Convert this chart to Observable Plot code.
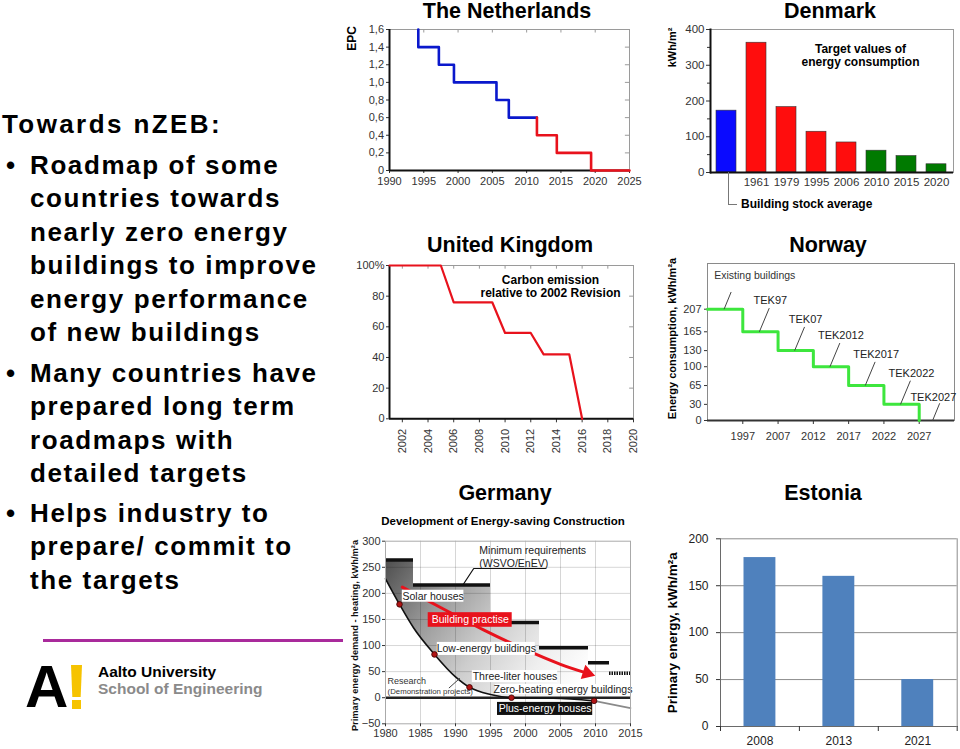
<!DOCTYPE html>
<html>
<head>
<meta charset="utf-8">
<script src="https://cdn.jsdelivr.net/npm/d3@7"></script>
<script src="https://cdn.jsdelivr.net/npm/@observablehq/plot@0.6"></script>
<style>
html,body{margin:0;padding:0;background:#fff;}
#page{position:relative;width:960px;height:749px;overflow:hidden;background:#fff;font-family:'Liberation Sans',Arial,Helvetica,sans-serif;}
.ttl{position:absolute;font-weight:bold;font-size:21.5px;line-height:16px;white-space:nowrap;transform:translate(-50%,-50%);color:#000;}
.txt{position:absolute;left:0;font-weight:bold;font-size:26px;line-height:33.5px;letter-spacing:1.6px;white-space:nowrap;color:#000;}
.txt .b{position:absolute;left:6px;top:0;letter-spacing:0;}
.txt .l{margin-left:30px;}
</style>
</head>
<body>
<div id="page">
  <div class="txt" style="top:107.6px;left:2px;letter-spacing:2.4px;">Towards nZEB:</div>
  <div class="txt" style="top:148.6px;"><span class="b">•</span><div class="l">Roadmap of some<br>countries towards<br>nearly zero energy<br>buildings to improve<br>energy performance<br>of new buildings</div></div>
  <div class="txt" style="top:356.6px;"><span class="b">•</span><div class="l">Many countries have<br>prepared long term<br>roadmaps with<br>detailed targets</div></div>
  <div class="txt" style="top:496.6px;"><span class="b">•</span><div class="l">Helps industry to<br>prepare/ commit to<br>the targets</div></div>
  <div style="position:absolute;left:43px;top:639px;width:300px;height:3px;background:#a92a9b;"></div>
  <div style="position:absolute;left:25px;top:657px;font-weight:bold;font-size:60px;line-height:60px;color:#000;">A</div>
  <div style="position:absolute;left:71px;top:665px;width:11px;height:32px;background:#f6c300;clip-path:polygon(0 0,100% 0,88% 100%,12% 100%);"></div>
  <div style="position:absolute;left:71.5px;top:700px;width:9.5px;height:8.5px;background:#f6c300;"></div>
  <div style="position:absolute;left:98px;top:663px;font-weight:bold;font-size:15.5px;line-height:17px;color:#000;white-space:nowrap;">Aalto University</div>
  <div style="position:absolute;left:98px;top:679.5px;font-weight:bold;font-size:15.5px;line-height:17px;color:#8a8a8a;white-space:nowrap;">School of Engineering</div>
</div>
<script>
// ================= DATA =================
// The Netherlands – EPC requirement steps
const nlYear  = [1994.2, 1994.2, 1997.2, 1999.4, 2005.6, 2007.4, 2011.5, 2011.5, 2014.4, 2019.4, 2025];
const nlEPC   = [1.6, 1.4, 1.2, 1.0, 0.8, 0.6, 0.6, 0.4, 0.2, 0, 0];
const nlPhase = ["realised","realised","realised","realised","realised","realised","realised","target","target","target","target"];
const nlXTicks = [1990, 1995, 2000, 2005, 2010, 2015, 2020, 2025];
const nlYTicks = [0, 0.2, 0.4, 0.6, 0.8, 1.0, 1.2, 1.4, 1.6];

// Denmark – target values of energy consumption (kWh/m²)
const dkCategory = ["Building stock average", "1961", "1979", "1995", "2006", "2010", "2015", "2020"];
const dkValue    = [173, 363, 183, 114, 84, 61, 46, 23];
const dkGroup    = ["stock", "past", "past", "past", "past", "target", "target", "target"];
const dkYTicks   = [0, 100, 200, 300, 400];
const dkMinorTicks = [50, 150, 250, 350];

// United Kingdom – carbon emission relative to 2002 revision (%)
const ukYear   = [2001, 2005, 2006, 2009, 2010, 2012, 2013, 2015, 2016];
const ukCarbon = [100, 100, 76, 76, 56, 56, 42, 42, 0];
const ukXTicks = [2002, 2004, 2006, 2008, 2010, 2012, 2014, 2016, 2018, 2020];
const ukYTicks = [0, 20, 40, 60, 80, 100];

// Norway – energy consumption, kWh/m²a
const noPeriod    = ["Existing buildings", "TEK97", "TEK07", "TEK2012", "TEK2017", "TEK2022", "TEK2027"];
const noValue     = [207, 165, 130, 100, 65, 30, 0];
const noYearTicks = ["1997", "2007", "2012", "2017", "2022", "2027"];

// Germany – primary energy demand for heating, kWh/m²a
const deReqYear   = [1980, 1984, 1995, 2002, 2009, 2012];
const deReqValue  = [264, 216, 144, 96, 67, 47];
const deCurveYear  = [1980, 1982, 1984, 1987, 1990, 1992, 1995, 1998, 2004, 2009.8, 2015];
const deCurveValue = [228, 179, 134, 83, 40, 20, 6, 0, -1, -6, -20];
const deCurveMarked = [false, true, false, true, false, true, false, true, false, true, false];
const dePracticeYear  = [1982.4, 1988, 1994, 2000, 2005, 2008.8];
const dePracticeValue = [212, 172, 130, 92, 64, 47];
const deXTicks = [1980, 1985, 1990, 1995, 2000, 2005, 2010, 2015];
const deYTicks = [-50, 0, 50, 100, 150, 200, 250, 300];

// Estonia – primary energy, kWh/m²a
const eeYear  = ["2008", "2013", "2021"];
const eeValue = [180, 160, 50];
const eeYTicks = [0, 50, 100, 150, 200];

// ================= HELPERS =================
const F = "'Liberation Sans', Arial, Helvetica, sans-serif";
const page = document.getElementById("page");
function put(node, left, top) {
  node.style.position = "absolute";
  node.style.left = left + "px";
  node.style.top = top + "px";
  node.style.overflow = "visible";
  page.appendChild(node);
}
function title(text, cx, cy) {
  const d = document.createElement("div");
  d.className = "ttl"; d.textContent = text;
  d.style.left = cx + "px"; d.style.top = cy + "px";
  page.appendChild(d);
}
function note(text, x, y, size, {anchor = "middle", weight = "bold", color = "#000"} = {}) {
  const d = document.createElement("div");
  d.textContent = text;
  Object.assign(d.style, {position: "absolute", left: x + "px", top: y + "px", fontFamily: F,
    fontSize: size + "px", lineHeight: size + "px", fontWeight: weight, color, whiteSpace: "nowrap",
    transform: anchor === "start" ? "translate(0,-50%)" : "translate(-50%,-50%)"});
  page.appendChild(d);
}
const baseStyle = (fs) => ({fontFamily: F, fontSize: fs + "px", color: "#333", background: "transparent", overflow: "visible"});
const centred = {textAnchor: "middle", lineAnchor: "middle"};

// ================= THE NETHERLANDS =================
{
  const rows = nlYear.map((x, i) => ({year: x, epc: nlEPC[i], phase: nlPhase[i]}));
  const realised = rows.filter(d => d.phase === "realised");
  const target = [realised[realised.length - 1], ...rows.filter(d => d.phase === "target")];
  const svg = Plot.plot({
    width: 310, height: 200, marginLeft: 49, marginRight: 21, marginTop: 29, marginBottom: 30,
    style: baseStyle(11),
    x: {domain: [1990, 2025], label: null},
    y: {domain: [0, 1.6], label: null},
    marks: [
      Plot.frame({stroke: "#9a9a9a"}),
      Plot.ruleX(nlXTicks, {y1: 1.6, y2: 1.56, stroke: "#9a9a9a"}),
      Plot.ruleY(nlYTicks, {x1: 2025, x2: 2024.4, stroke: "#9a9a9a"}),
      Plot.axisX({ticks: nlXTicks, tickFormat: d => String(d), tickSize: 3, tickPadding: 3.5, label: null}),
      Plot.axisY({ticks: nlYTicks, tickFormat: d => d === 0 ? "0" : d.toFixed(1).replace(".", ","), tickSize: 3, tickPadding: 2.5, label: null}),
      Plot.ruleX([1990], {stroke: "#111", strokeWidth: 2}),
      Plot.ruleY([0], {stroke: "#111", strokeWidth: 2}),
      Plot.line(realised, {x: "year", y: "epc", curve: "step-after", stroke: "#0a18cc", strokeWidth: 2.6}),
      Plot.line(target, {x: "year", y: "epc", curve: "step-after", stroke: "#e8121c", strokeWidth: 2.6}),
      Plot.text(["EPC"], {frameAnchor: "top-left", dx: -37, dy: 9, rotate: -90, fontWeight: "bold", fontSize: 12, fill: "#000", ...centred})
    ]
  });
  put(svg, 340, 0);
  title("The Netherlands", 507, 10.5);
}

// ================= DENMARK =================
{
  const rows = dkCategory.map((c, i) => ({cat: c, v: dkValue[i], g: dkGroup[i]}));
  const svg = Plot.plot({
    width: 310, height: 215, marginLeft: 60, marginRight: 7, marginTop: 29, marginBottom: 43,
    style: baseStyle(11.5),
    x: {domain: dkCategory, paddingInner: 0.32, paddingOuter: 0.2, label: null},
    y: {domain: [0, 400], label: null},
    color: {domain: ["stock", "past", "target"], range: ["#0a0aff", "#ff0d0d", "#007a00"]},
    marks: [
      Plot.frame({stroke: "#9a9a9a"}),
      Plot.barY(rows, {x: "cat", y: "v", fill: "g", stroke: "#333", strokeWidth: 0.6}),
      Plot.axisX({tickSize: 0, tickPadding: 5, tickFormat: d => d === dkCategory[0] ? "" : d, label: null}),
      Plot.axisY({ticks: dkYTicks, tickSize: 4, tickPadding: 2, label: null}),
      Plot.axisY({ticks: dkMinorTicks, tickSize: 3, tickFormat: () => "", label: null}),
      Plot.frame({anchor: "left", stroke: "#111", strokeWidth: 2}),
      Plot.ruleY([0], {stroke: "#111", strokeWidth: 2}),
      Plot.text(["kWh/m²"], {frameAnchor: "top-left", dx: -38, dy: 18, rotate: -90, fontWeight: "bold", fontSize: 11, fill: "#000", ...centred}),
      Plot.text(["Target values of\nenergy consumption"], {frameAnchor: "top-left", dx: 150, dy: 25.5, fontWeight: "bold", fontSize: 12, lineHeight: 1.08, fill: "#000", ...centred})
    ]
  });
  put(svg, 650, 0);
  title("Denmark", 830, 10.5);
  const br = document.createElement("div");
  Object.assign(br.style, {position: "absolute", left: "728px", top: "172px", width: "8px", height: "32px",
    borderLeft: "1px solid #777", borderBottom: "1px solid #777"});
  page.appendChild(br);
  note(dkCategory[0], 741, 204, 12, {anchor: "start"});
}

// ================= UNITED KINGDOM =================
{
  const rows = ukYear.map((y, i) => ({year: y, pct: ukCarbon[i]}));
  const svg = Plot.plot({
    width: 310, height: 240, marginLeft: 49, marginRight: 17, marginTop: 40, marginBottom: 46.7,
    style: baseStyle(11),
    x: {domain: [2001, 2020], label: null},
    y: {domain: [0, 100], label: null},
    marks: [
      Plot.frame({stroke: "#9a9a9a"}),
      Plot.ruleX(ukXTicks, {y1: 100, y2: 97.6, stroke: "#9a9a9a"}),
      Plot.ruleY(ukYTicks, {x1: 2020, x2: 2019.7, stroke: "#9a9a9a"}),
      Plot.axisX({ticks: ukXTicks, tickFormat: d => String(d), tickRotate: -90, tickSize: 4, tickPadding: 6, label: null}),
      Plot.axisY({ticks: ukYTicks, tickFormat: d => d === 100 ? "100%" : String(d), tickSize: 3, tickPadding: 2, label: null}),
      Plot.ruleX([2001], {stroke: "#111", strokeWidth: 2}),
      Plot.ruleY([0], {stroke: "#111", strokeWidth: 2}),
      Plot.line(rows, {x: "year", y: "pct", stroke: "#e8121c", strokeWidth: 2.2}),
      Plot.text(["Carbon emission\nrelative to 2002 Revision"], {frameAnchor: "top-left", dx: 161, dy: 20.5, fontWeight: "bold", fontSize: 12, lineHeight: 1.08, fill: "#000", ...centred})
    ]
  });
  put(svg, 340, 225);
  title("United Kingdom", 510, 245);
}

// ================= NORWAY =================
{
  const rows = noValue.map((v, i) => ({i, v}));
  const notes = noPeriod.map((t, i) => {
    if (i === 0) return {t, lx: 0.19, ly: noValue[i] + 63, bx: 0.47, by: noValue[i], tx: 0.67, ty: noValue[i] + 32};
    if (i === noPeriod.length - 1) return {t, lx: 6.4, ly: noValue[i] + 43, bx: 6.38, by: noValue[i], tx: 6.58, ty: noValue[i] + 32};
    return {t, lx: i + 0.78, ly: noValue[i] + 58, bx: i + 0.47, by: noValue[i], tx: i + 0.75, ty: noValue[i] + 44};
  });
  const svg = Plot.plot({
    width: 310, height: 235, marginLeft: 57, marginRight: 6, marginTop: 38, marginBottom: 40,
    style: baseStyle(11),
    x: {domain: [0, 7], label: null},
    y: {domain: [0, 292], label: null},
    marks: [
      Plot.frame({stroke: "#8a8a8a"}),
      Plot.axisX({ticks: [1, 2, 3, 4, 5, 6], tickFormat: i => noYearTicks[i - 1], tickSize: 4, tickPadding: 8, label: null}),
      Plot.axisY({ticks: noValue, tickSize: 3, tickPadding: 3, label: null}),
      Plot.ruleY([0], {stroke: "#333", strokeWidth: 2}),
      Plot.line(rows, {x: "i", y: "v", curve: "step-after", stroke: "#3de63d", strokeWidth: 3}),
      Plot.link(notes, {x1: "bx", y1: "by", x2: "tx", y2: "ty", stroke: "#444", strokeWidth: 1}),
      Plot.text(notes.slice(0, 1), {x: "lx", y: "ly", text: "t", textAnchor: "start", fontSize: 10.5, fill: "#333"}),
      Plot.text(notes.slice(1), {x: "lx", y: "ly", text: "t", fontSize: 11, fill: "#222"}),
      Plot.text(["Energy consumption, kWh/m²a"], {frameAnchor: "left", dx: -35, dy: -3.5, rotate: -90, fontWeight: "bold", fontSize: 11, fill: "#000", ...centred})
    ]
  });
  put(svg, 650, 225);
  title("Norway", 828, 245);
}

// ================= GERMANY =================
{
  const last = deReqYear.length - 1;
  const req = deReqYear.map((x, i) => ({x1: x, x2: i < last ? deReqYear[i + 1] : 2015, y: deReqValue[i]}));
  const reqArea = [...deReqYear.map((x, i) => ({x, y: deReqValue[i]})), {x: 2015, y: deReqValue[last]}];
  const curve = deCurveYear.map((x, i) => ({x, y: deCurveValue[i], marked: deCurveMarked[i]}));
  const split = 2009.8;
  const curveBlack = curve.filter(d => d.x <= split);
  const curveGray = curve.filter(d => d.x >= split);
  const practice = dePracticeYear.map((x, i) => ({x, y: dePracticeValue[i]}));
  const boxes = [
    {t: "Solar houses",                  x1: 1982.4, x2: 1991.2, y1: 183, y2: 206, bg: "white",   fg: "#222"},
    {t: "Building practise",             x1: 1986.1, x2: 1998.1, y1: 135, y2: 163, bg: "#e8121c", fg: "white"},
    {t: "Low-energy buildings",          x1: 1987.4, x2: 2001.4, y1: 81,  y2: 106, bg: "white",   fg: "#222"},
    {t: "Three-liter houses",            x1: 1992.4, x2: 2004.6, y1: 29,  y2: 52,  bg: "white",   fg: "#222"},
    {t: "Zero-heating energy buildings", x1: 1995.7, x2: 2015,   y1: 6,   y2: 25.5, bg: "white",  fg: "#222"},
    {t: "Plus-energy houses",            x1: 1996,   x2: 2009.6, y1: -34, y2: -9,  bg: "#111",    fg: "white"}
  ];
  const svg = Plot.plot({
    width: 300, height: 274, marginLeft: 45, marginRight: 10, marginTop: 65.7, marginBottom: 25.7,
    style: baseStyle(11),
    x: {domain: [1980, 2015], label: null},
    y: {domain: [-50, 300], label: null},
    color: {type: "identity"},
    marks: [
      Plot.areaY(reqArea, {x: "x", y1: 0, y2: "y", curve: "step-after", fill: "url(#deShade)"}),
      Plot.areaY(curve, {x: "x", y1: 0, y2: "y", curve: "monotone-x", fill: "white"}),
      Plot.gridX({ticks: deXTicks.slice(1, -1), stroke: "#000", strokeOpacity: 0.16}),
      Plot.gridY({ticks: deYTicks.slice(1, -1), stroke: "#000", strokeOpacity: 0.16}),
      Plot.ruleY([0], {stroke: "#222", strokeWidth: 2.5}),
      Plot.ruleY(req.slice(0, -1), {x1: "x1", x2: "x2", y: "y", stroke: "#111", strokeWidth: 3.5}),
      Plot.ruleY(req.slice(-1), {x1: "x1", x2: "x2", y: "y", stroke: "#111", strokeWidth: 3.5, strokeDasharray: "1.5,1"}),
      Plot.line(curveBlack, {x: "x", y: "y", curve: "monotone-x", stroke: "#111", strokeWidth: 1.6}),
      Plot.line(curveGray, {x: "x", y: "y", curve: "monotone-x", stroke: "#8a8a8a", strokeWidth: 1.6}),
      Plot.line(practice, {x: "x", y: "y", curve: "natural", stroke: "#e8121c", strokeWidth: 3}),
      Plot.dot(practice.slice(-1), {x: "x", y: "y", symbol: "triangle", r: 5.5, fill: "#e8121c", rotate: 108}),
      Plot.rect(boxes, {x1: "x1", x2: "x2", y1: "y1", y2: "y2", fill: "bg"}),
      Plot.text(boxes, {x: d => (d.x1 + d.x2) / 2, y: d => (d.y1 + d.y2) / 2, text: "t", fill: "fg", fontSize: 10.5}),
      Plot.dot(curve.filter(d => d.marked), {x: "x", y: "y", r: 2.8, fill: "#b01414", stroke: "#3a0000", strokeWidth: 0.8}),
      Plot.line([[1991.1, 217], [1992.6, 247.7], [2002.9, 247.7]], {stroke: "#111", strokeWidth: 1.2}),
      Plot.line([[1989.1, 19], [1990.6, 37]], {stroke: "#444", strokeWidth: 1}),
      Plot.text(["Minimum requirements", "(WSVO/EnEV)"], {x: 1993.4, y: (d, i) => i === 0 ? 282 : 257, textAnchor: "start", fontSize: 10.5, fill: "#222"}),
      Plot.text(["Research"], {x: 1980.3, y: 31, textAnchor: "start", fontSize: 9, fill: "#333"}),
      Plot.text(["(Demonstration projects)"], {x: 1980.3, y: 12, textAnchor: "start", fontSize: 7.8, fill: "#333"}),
      Plot.frame({stroke: "#aaa"}),
      Plot.axisX({ticks: deXTicks, tickFormat: d => String(d), tickSize: 3, tickPadding: 2, label: null}),
      Plot.axisY({ticks: deYTicks, tickSize: 3, tickPadding: 2, label: null}),
      Plot.text(["Primary energy demand - heating, kWh/m²a"], {frameAnchor: "left", dx: -30, dy: 3, rotate: -90, fontWeight: "bold", fontSize: 9.3, fill: "#111", ...centred})
    ]
  });
  const grad = d3.select(svg).insert("defs", ":first-child").append("linearGradient")
    .attr("id", "deShade").attr("x1", 0).attr("y1", 0).attr("x2", 1).attr("y2", 0.4);
  [[0, "#4d4d4d"], [0.3, "#9b9b9b"], [0.55, "#cdcdcd"], [0.8, "#efefef"], [1, "#ffffff"]]
    .forEach(([o, c]) => grad.append("stop").attr("offset", o).attr("stop-color", c));
  put(svg, 340, 475);
  title("Germany", 505, 493);
  note("Development of Energy-saving Construction", 503, 522, 11.5);
}

// ================= ESTONIA =================
{
  const rows = eeYear.map((y, i) => ({i, year: y, v: eeValue[i]}));
  const svg = Plot.plot({
    width: 310, height: 274, marginLeft: 70, marginRight: 3.3, marginTop: 63.3, marginBottom: 23,
    style: baseStyle(12),
    x: {domain: [0, eeYear.length], label: null},
    y: {domain: [0, 200], label: null},
    marks: [
      Plot.gridY(eeYTicks.slice(1), {stroke: "#8c8c8c", strokeOpacity: 1}),
      Plot.rectY(rows, {x1: "i", x2: d => d.i + 1, y: "v", insetLeft: 23.5, insetRight: 23.5, fill: "#4f81bd"}),
      Plot.frame({anchor: "right", stroke: "#8c8c8c"}),
      Plot.ruleX([0], {stroke: "#6a6a6a"}),
      Plot.ruleY([0], {stroke: "#6a6a6a"}),
      Plot.axisY({ticks: eeYTicks, tickSize: 4, tickPadding: 8, label: null, fill: "#222"}),
      Plot.axisX({ticks: [0, 1, 2, 3], tickFormat: () => "", tickSize: 5, label: null}),
      Plot.axisX({ticks: [0.5, 1.5, 2.5], tickFormat: d => eeYear[Math.floor(d)], tickSize: 0, tickPadding: 10, label: null, fill: "#222"}),
      Plot.text(["Primary energy, kWh/m²a"], {frameAnchor: "left", dx: -48, rotate: -90, fontWeight: "bold", fontSize: 13.5, fill: "#000", ...centred})
    ]
  });
  put(svg, 650, 475);
  title("Estonia", 823, 493);
}
</script>
</body>
</html>
